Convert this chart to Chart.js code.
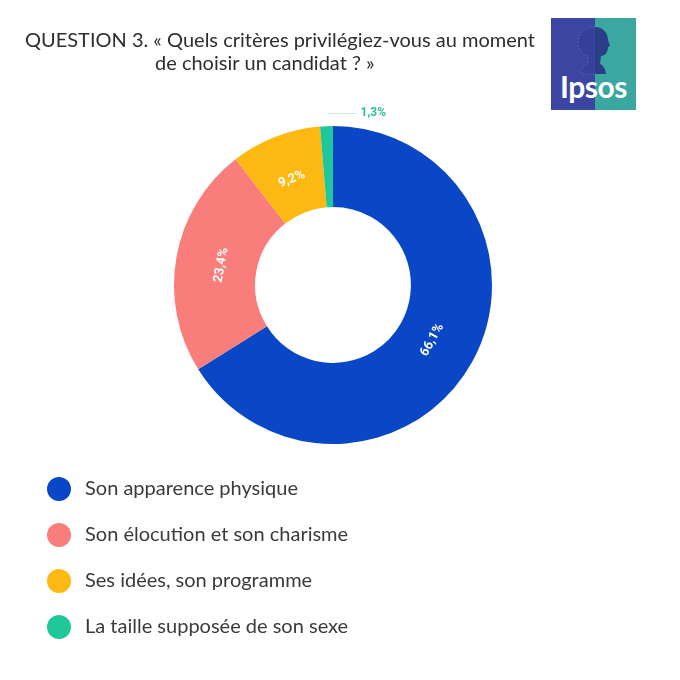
<!DOCTYPE html>
<html>
<head>
<meta charset="utf-8">
<script src="https://cdn.jsdelivr.net/npm/chart.js@4"></script>
<style>
  html, body { margin: 0; padding: 0; background: #ffffff; }
  #wrap { position: relative; width: 680px; height: 680px; }
  #c { position: absolute; left: 0; top: 0; }
  #logo { position: absolute; left: 551px; top: 18px; width: 85px; height: 92px; overflow: hidden;
          background: linear-gradient(90deg, #3b46a3 0%, #3b46a3 52%, #3aa7a0 52%, #3aa7a0 100%); }
  #logo span { position: absolute; left: 0; width: 85px; bottom: 6px; text-align: center; color: #fff;
          font-family: "Lato", sans-serif; font-size: 30px; font-weight: 700; letter-spacing: -0.5px; }
  #head { position: absolute; left: 24px; top: 6px; width: 38px; height: 52px; }
</style>
</head>
<body>
<div id="wrap">
  <canvas id="c" width="680" height="680"></canvas>
  <div id="logo">
    <svg id="head" viewBox="0 0 38 52">
      <path d="M20 3 C10 3 3 9 3 18 C3 26 8 31 13 32 L13 40 C9 41 7 44 6 50 L20 50 Z" fill="#34409c" stroke="#5d68b8" stroke-width="1" stroke-dasharray="1.5 2"/>
      <path d="M20 3 C28 3 33 9 33 16 L35 22 L33 23 C33 28 30 32 26 32 L25 40 C28 41 30 44 31 50 L20 50 Z" fill="#2a3d86"/>
    </svg>
    <span>Ipsos</span>
  </div>
</div>
<script>
const categories = [
  "Son apparence physique",
  "Son élocution et son charisme",
  "Ses idées, son programme",
  "La taille supposée de son sexe"
];
const values = [66.1, 23.4, 9.2, 1.3];
const valueLabels = ["66,1%", "23,4%", "9,2%", "1,3%"];
const colors = ["#0a47c6", "#f87d7b", "#fdb912", "#1fc79b"];
const titleLines = [
  "QUESTION 3. « Quels critères privilégiez-vous au moment",
  "de choisir un candidat ? »"
];

const overlay = {
  id: 'overlay',
  afterDraw(chart) {
    const ctx = chart.ctx;
    ctx.save();
    // Title
    ctx.fillStyle = '#2e2e2e';
    ctx.font = '20px "Lato", sans-serif';
    ctx.textAlign = 'left';
    ctx.textBaseline = 'alphabetic';
    ctx.fillText(titleLines[0], 25, 47);
    ctx.fillText(titleLines[1], 155, 70);

    // Slice labels
    const meta = chart.getDatasetMeta(0);
    meta.data.forEach((arc, i) => {
      const p = arc.getProps(['x', 'y', 'startAngle', 'endAngle', 'innerRadius', 'outerRadius'], true);
      const mid = (p.startAngle + p.endAngle) / 2;
      if (i === values.length - 1) {
        // outside label with leader line
        const lx = p.x + Math.cos(mid) * p.outerRadius;
        ctx.strokeStyle = '#c9e8df';
        ctx.lineWidth = 1;
        ctx.beginPath();
        ctx.moveTo(lx + 2, 113.5);
        ctx.lineTo(lx + 30, 113.5);
        ctx.stroke();
        ctx.fillStyle = '#2bbf95';
        ctx.font = 'bold 12px "Liberation Sans Narrow", "Roboto", sans-serif';
        ctx.textAlign = 'left';
        ctx.textBaseline = 'middle';
        ctx.fillText(valueLabels[i], lx + 34, 113);
        return;
      }
      const r = (p.innerRadius + p.outerRadius) / 2 - 5;
      const x = p.x + Math.cos(mid) * r;
      const y = p.y + Math.sin(mid) * r;
      let rot = mid + Math.PI / 2;
      while (rot > Math.PI / 2) rot -= Math.PI;
      while (rot <= -Math.PI / 2) rot += Math.PI;
      ctx.save();
      ctx.translate(x, y);
      ctx.rotate(rot);
      ctx.fillStyle = '#ffffff';
      ctx.font = 'bold 13px "Liberation Sans Narrow", "Roboto", sans-serif';
      ctx.textAlign = 'center';
      ctx.textBaseline = 'middle';
      ctx.fillText(valueLabels[i], 0, 0);
      ctx.restore();
    });

    // Legend
    const ds = chart.data.datasets[0];
    chart.data.labels.forEach((lab, i) => {
      const cy = 489 + i * 46;
      ctx.fillStyle = ds.backgroundColor[i];
      ctx.beginPath();
      ctx.arc(59, cy, 12, 0, Math.PI * 2);
      ctx.fill();
      ctx.fillStyle = '#3a3a3a';
      ctx.font = '20px "Lato", sans-serif';
      ctx.textAlign = 'left';
      ctx.textBaseline = 'middle';
      ctx.fillText(lab, 85, cy);
    });
    ctx.restore();
  }
};

new Chart(document.getElementById('c'), {
  type: 'doughnut',
  data: {
    labels: categories,
    datasets: [{
      data: values,
      backgroundColor: colors,
      borderWidth: 0
    }]
  },
  options: {
    responsive: false,
    animation: false,
    cutout: '49%',
    layout: { padding: { left: 174, right: 188, top: 126, bottom: 236 } },
    plugins: { legend: { display: false }, tooltip: { enabled: false }, title: { display: false } }
  },
  plugins: [overlay]
});
</script>
</body>
</html>
